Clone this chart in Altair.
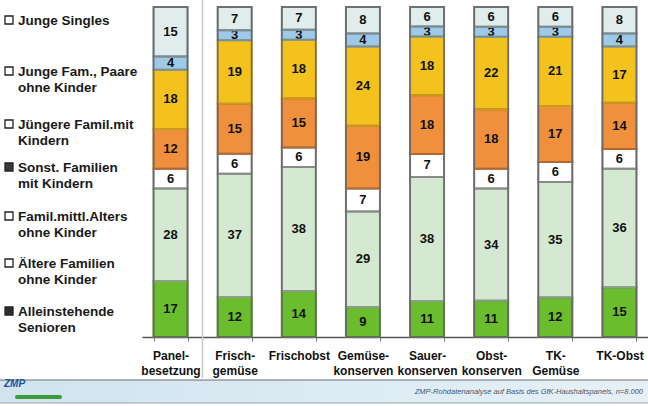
import altair as alt
import pandas as pd

# Product groups along the x axis (line breaks are drawn as two-line labels)
categories = ["Panel-\nbesetzung", "Frisch-\ngemüse", "Frischobst", "Gemüse-\nkonserven",
              "Sauer-\nkonserven", "Obst-\nkonserven", "TK-\nGemüse", "TK-Obst"]

# Household types, stacked from the bottom of each bar upwards
groups = ["Alleinstehende Senioren", "Ältere Familien ohne Kinder",
          "Famil.mittl.Alters ohne Kinder", "Sonst. Familien mit Kindern",
          "Jüngere Famil.mit Kindern", "Junge Fam., Paare ohne Kinder", "Junge Singles"]

# Shares in percent, one list per household type (same order as categories)
senioren = [17, 12, 14, 9, 11, 11, 12, 15]
aeltere = [28, 37, 38, 29, 38, 34, 35, 36]
mittl = [6, 6, 6, 7, 7, 6, 6, 6]
sonst = [12, 15, 15, 19, 18, 18, 17, 14]
juengere = [18, 19, 18, 24, 18, 22, 21, 17]
paare = [4, 3, 3, 4, 3, 3, 3, 4]
singles = [15, 7, 7, 8, 6, 6, 6, 8]
series = [senioren, aeltere, mittl, sonst, juengere, paare, singles]

fills = ["#6cbd2e", "#d5e9d2", "#ffffff", "#f0903c", "#f4c21c", "#a0c8e8", "#e1eded"]
strokes = ["#4b8a24", "#8e9e8c", "#8a8a8a", "#b8682c", "#c99c1c", "#6f92ab", "#7f8c8c"]

# Legend entries, top to bottom
legend_labels = ["Junge Singles", "Junge Fam., Paare\nohne Kinder", "Jüngere Famil.mit\nKindern",
                 "Sonst. Familien\nmit Kindern", "Famil.mittl.Alters\nohne Kinder",
                 "Ältere Familien\nohne Kinder", "Alleinstehende\nSenioren"]
legend_marker_fill = ["#ffffff", "#ffffff", "#ffffff", "#3a3a3a", "#ffffff", "#ffffff", "#2e2e2e"]
legend_row_y = [13, 64, 117, 160, 209, 256, 304]  # centre of first line, px below plot top

source_note = "ZMP-Rohdatenanalyse auf Basis des GfK-Haushaltspanels, n=8.000"

rows = []
for ci, cat in enumerate(categories):
    for gi, grp in enumerate(groups):
        rows.append({"cat": cat, "grp": grp, "order": gi, "value": series[gi][ci]})
df = pd.DataFrame(rows)

FONT = "Liberation Sans"

x_scale = alt.Scale(paddingInner=0.47, paddingOuter=0.18)
y_scale = alt.Scale(domain=[0, 1], nice=False)

x_axis = alt.Axis(title=None, labelAngle=0, labelFont=FONT, labelFontSize=12,
                  labelFontWeight="bold", labelColor="#111111", labelPadding=9,
                  labelLineHeight=15, labelExpr="split(datum.label, '\\n')",
                  tickBand="extent", tickSize=4, tickColor="#777777",
                  domainColor="#555555", domainWidth=1.5)


def xenc(**kw):
    return alt.X("cat:N", sort=categories, scale=x_scale, axis=x_axis, **kw)


base = (
    alt.Chart(df)
    .transform_joinaggregate(total="sum(value)", groupby=["cat"])
    .transform_window(cum="sum(value)", groupby=["cat"], sort=[alt.SortField("order")])
    .transform_calculate(
        y0="(datum.cum - datum.value) / datum.total",
        y1="datum.cum / datum.total",
        mid="(datum.cum - datum.value / 2) / datum.total",
    )
)

seg_fill = base.mark_bar(strokeWidth=0).encode(
    x=xenc(),
    y=alt.Y("y0:Q", scale=y_scale, axis=None),
    y2="y1:Q",
    color=alt.Color("grp:N", scale=alt.Scale(domain=groups, range=fills), legend=None),
)

seg_text = base.mark_text(font=FONT, fontSize=13, fontWeight="bold", color="#111111",
                          baseline="middle").encode(
    x=xenc(),
    y=alt.Y("mid:Q", scale=y_scale, axis=None),
    text=alt.Text("value:Q"),
)

seg_stroke = base.mark_bar(fillOpacity=0, strokeWidth=2).encode(
    x=xenc(),
    y=alt.Y("y0:Q", scale=y_scale, axis=None),
    y2="y1:Q",
    stroke=alt.Stroke("grp:N", scale=alt.Scale(domain=groups, range=strokes), legend=None),
)

frame_df = pd.DataFrame({"cat": categories, "lo": [0] * len(categories), "hi": [1] * len(categories)})
frame = alt.Chart(frame_df).mark_bar(fillOpacity=0, stroke="#6a6a6a", strokeWidth=1.5).encode(
    x=xenc(),
    y=alt.Y("lo:Q", scale=y_scale, axis=None),
    y2="hi:Q",
)

separator = alt.Chart(pd.DataFrame({"cat": [categories[0]]})).mark_rule(
    xOffset=15, color="#c9c9c9", strokeWidth=1.5
).encode(
    x=xenc(bandPosition=1),
    y=alt.value(-7),
    y2=alt.value(371),
)

# Hand-built legend on the left
leg_df = pd.DataFrame({"label": legend_labels, "mfill": legend_marker_fill, "py": legend_row_y})
leg_marks = alt.Chart(leg_df).mark_square(size=64, stroke="#222222", strokeWidth=1.3, opacity=1).encode(
    x=alt.value(-133),
    y=alt.Y("py:Q", scale=None),
    fill=alt.Fill("mfill:N", scale=None),
)
leg_text = (
    alt.Chart(leg_df)
    .transform_calculate(base_y="datum.py + 5")
    .mark_text(font=FONT, fontSize=13.5, fontWeight="bold", color="#1a1a1a", align="left",
               baseline="alphabetic", lineBreak="\n", lineHeight=16)
    .encode(x=alt.value(-124), y=alt.Y("base_y:Q", scale=None), text="label:N")
)

# Footer strip with source note
footer_band = alt.Chart(pd.DataFrame({"k": [0]})).mark_rect(
    color=alt.LinearGradient(
        gradient="linear", x1=0, x2=1, y1=0, y2=0,
        stops=[alt.GradientStop(color="#cfe4ef", offset=0),
               alt.GradientStop(color="#dcebf4", offset=0.5),
               alt.GradientStop(color="#e6f0f6", offset=1)],
    ),
).encode(x=alt.value(-142), x2=alt.value(506), y=alt.value(373), y2=alt.value(396))
footer_top = alt.Chart(pd.DataFrame({"k": [0]})).mark_rule(color="#6f6f6f", strokeWidth=1.2).encode(
    x=alt.value(-142), x2=alt.value(506), y=alt.value(373))
footer_bottom = alt.Chart(pd.DataFrame({"k": [0]})).mark_rule(color="#9aa4aa", strokeWidth=1).encode(
    x=alt.value(-142), x2=alt.value(506), y=alt.value(396))
footer_text = alt.Chart(pd.DataFrame({"t": [source_note]})).mark_text(
    font=FONT, fontSize=7.5, fontStyle="italic", color="#44556b", align="right", baseline="middle"
).encode(x=alt.value(501), y=alt.value(385), text="t:N")

logo_swoosh = alt.Chart(pd.DataFrame({"k": [0]})).mark_rule(color="#3f9a3a", strokeWidth=4,
                                                            strokeCap="round").encode(
    x=alt.value(-125), x2=alt.value(-82), y=alt.value(390))
logo_text = alt.Chart(pd.DataFrame({"t": ["ZMP"]})).mark_text(
    font=FONT, fontSize=10, fontStyle="italic", fontWeight="bold", color="#1f4f9e", align="left",
    baseline="middle"
).encode(x=alt.value(-138), y=alt.value(377), text="t:N")

chart = (
    alt.layer(separator, seg_fill, seg_text, seg_stroke, frame,
              leg_marks, leg_text, footer_band, footer_top, footer_bottom, footer_text,
              logo_swoosh, logo_text)
    .properties(width=506, height=330,
                padding={"left": 142, "top": 7, "right": 0, "bottom": 69},
                autosize="none", background="#ffffff")
    .configure_view(stroke=None)
)

chart.save("out.html", embed_options={"renderer": "svg", "actions": False})
